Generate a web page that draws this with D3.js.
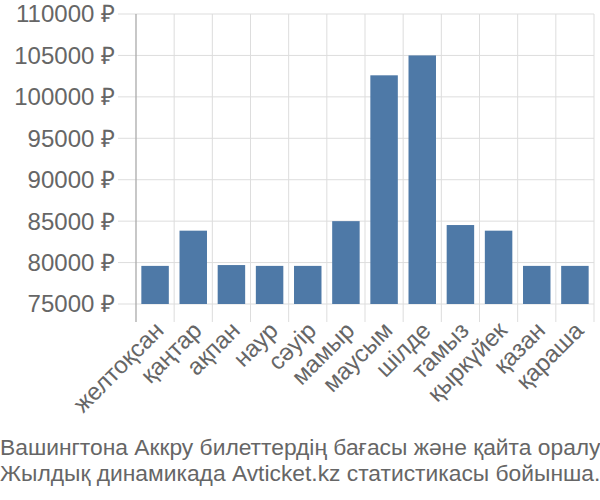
<!DOCTYPE html>
<html><head><meta charset="utf-8">
<script src="https://cdn.jsdelivr.net/npm/d3@7"></script>
<style>body{margin:0;background:#fff}svg{display:block}text{font-family:"Liberation Sans",Arial,sans-serif}</style>
</head><body><svg id="c" width="600" height="500"></svg>
<script>
const months = ["желтоқсан","қаңтар","ақпан","наур","сәуір","мамыр","маусым","шілде","тамыз","қыркүйек","қазан","қараша"];
const prices = [79600, 83850, 79700, 79600, 79600, 85000, 102600, 105000, 84530, 83850, 79600, 79600];
const yTicks = [75000, 80000, 85000, 90000, 95000, 100000, 105000, 110000];
const titleLines = ["Вашингтона Аккру билеттердің бағасы және қайта оралу","Жылдық динамикада Avticket.kz статистикасы бойынша."];

const svg = d3.select("#c");
const mLeft = 136, mRight = 594, mTop = 14, mBottom = 304;
const x = d3.scaleBand().domain(months).range([mLeft, mRight]).paddingInner(0).paddingOuter(0);
const y = d3.scaleLinear().domain([75000, 110000]).range([mBottom, mTop]);

// horizontal grid
svg.append("g").selectAll("line").data(yTicks).join("line")
  .attr("x1", mLeft - 18).attr("x2", mRight).attr("y1", d => y(d)).attr("y2", d => y(d))
  .attr("stroke", "#dddddd").attr("stroke-width", 1);
// vertical grid
const vb = months.map(m => x(m)).concat([mRight]);
svg.append("g").selectAll("line").data(vb.slice(1)).join("line")
  .attr("x1", d => d).attr("x2", d => d).attr("y1", mTop).attr("y2", mBottom + 18)
  .attr("stroke", "#dddddd").attr("stroke-width", 1);
// left axis line
svg.append("line").attr("x1", mLeft).attr("x2", mLeft).attr("y1", mTop).attr("y2", mBottom + 18)
  .attr("stroke", "#aaaaaa").attr("stroke-width", 1.3);

// bars
const bw = x.bandwidth() * 0.72;
svg.append("g").selectAll("rect").data(prices).join("rect")
  .attr("x", (d, i) => x(months[i]) + (x.bandwidth() - bw) / 2)
  .attr("width", bw)
  .attr("y", d => y(d))
  .attr("height", d => y(75000) - y(d))
  .attr("fill", "#4e79a7");

// y labels
svg.append("g").selectAll("text").data(yTicks).join("text")
  .attr("x", 115).attr("y", d => y(d)).attr("dy", "0.35em")
  .attr("text-anchor", "end").attr("fill", "#666").attr("font-size", 24)
  .text(d => d + " ₽");

// x labels
svg.append("g").selectAll("text").data(months).join("text")
  .attr("transform", d => `translate(${x(d) + x.bandwidth()/2 + 4},${mBottom + 22}) rotate(-45)`)
  .attr("text-anchor", "end").attr("fill", "#666").attr("font-size", 24)
  .attr("dy", "0.35em")
  .text(d => d);

// title
svg.append("g").selectAll("text").data(titleLines).join("text")
  .attr("x", 0).attr("y", (d, i) => 455 + i * 26)
  .attr("fill", "#666").attr("font-size", 22.8)
  .text(d => d);
</script></body></html>
